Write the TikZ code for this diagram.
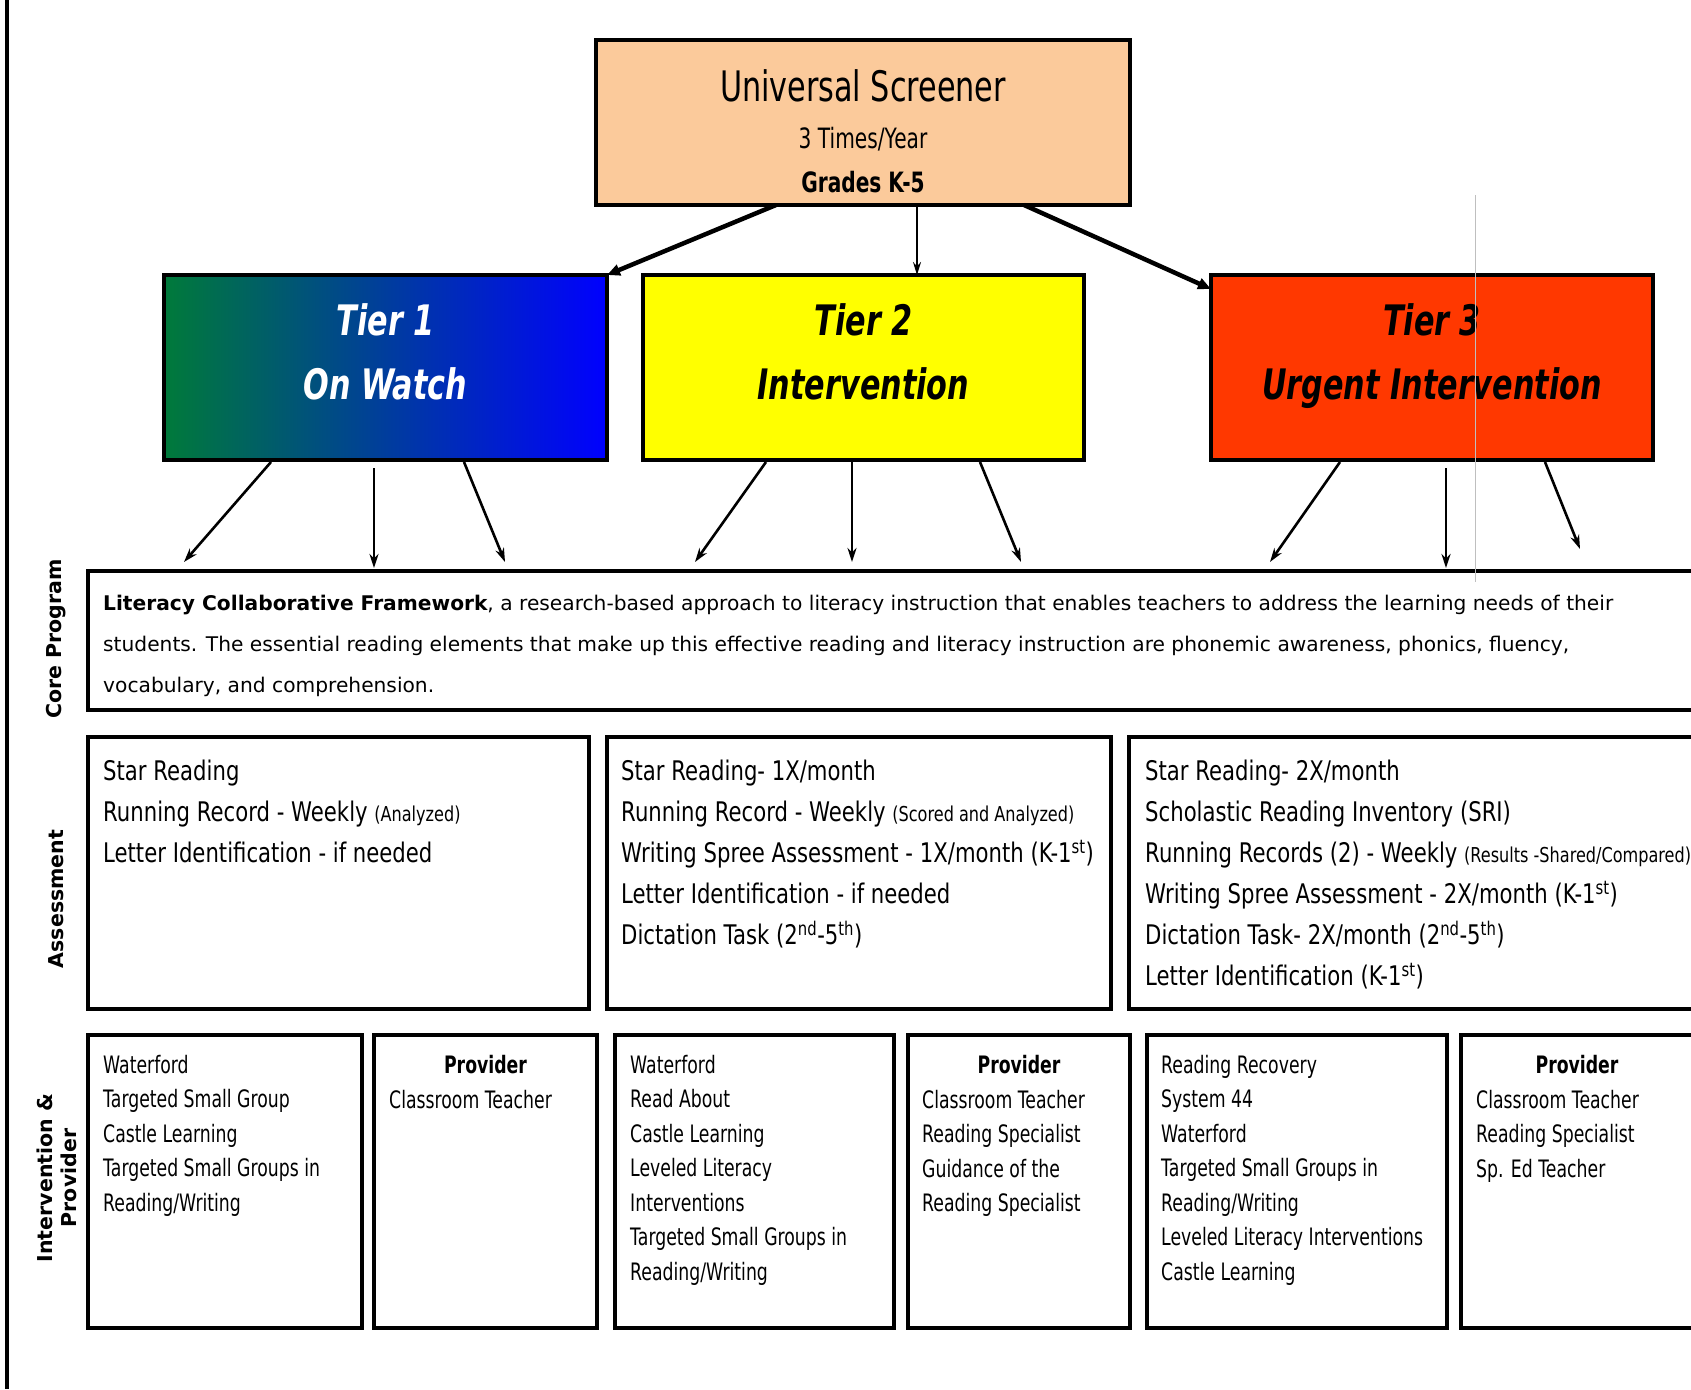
\documentclass[tikz,border=0pt]{standalone}
\usepackage{fontspec}
\setmainfont{DejaVu Sans}[ItalicFont={DejaVu Sans Oblique},BoldFont={DejaVu Sans Bold},BoldItalicFont={DejaVu Sans Bold Oblique}]
\newfontfamily\narrowfont{DejaVu Sans}[FakeStretch=0.72,ItalicFont={DejaVu Sans Oblique},BoldFont={DejaVu Sans Bold},BoldItalicFont={DejaVu Sans Bold Oblique}]
\newfontfamily\asmfont{DejaVu Sans}[FakeStretch=0.785,BoldFont={DejaVu Sans Bold}]
\usetikzlibrary{arrows.meta,positioning}
\definecolor{peach}{RGB}{251,202,155}
\definecolor{tgreen}{RGB}{0,122,58}
\definecolor{tblue}{RGB}{0,0,255}
\definecolor{tyellow}{RGB}{255,255,0}
\definecolor{tred}{RGB}{255,56,0}
\newcommand\aside[1]{{\fontsize{20.5}{20.5}\selectfont #1}}
\begin{document}
\begin{tikzpicture}[x=1pt,y=-1pt,
	box/.style={draw,line width=4.5pt,inner sep=0pt,outer sep=0pt,anchor=north west},
	lst/.style={inner sep=0pt,anchor=north west,align=left},
	asm/.style={lst,font=\asmfont\fontsize{27}{41}\selectfont},
	itv/.style={lst,font=\narrowfont\fontsize{24}{34.5}\selectfont},
	head/.style={inner sep=0pt,anchor=base,font=\narrowfont\bfseries\fontsize{24}{30}\selectfont},
	tier/.style={inner sep=0pt,anchor=north,align=center,font=\narrowfont\bfseries\itshape\fontsize{42}{64}\selectfont},
	side/.style={inner sep=0pt,rotate=90,align=center,font=\bfseries\fontsize{20.5}{24}\selectfont},
	fat/.style={-{Triangle[length=13pt,width=11pt]},line width=4.5pt},
	thin/.style={-{Stealth[length=13pt,width=8pt]},line width=1.8pt},
	down/.style={-{Stealth[length=14pt,width=9pt]},line width=2.6pt}]
	\useasboundingbox (0,0) rectangle (1691,1389);
	\draw [line width=4.5pt] (7,0) -- (7,1389);
	% screener and tiers
	\node [box,fill=peach,minimum width=534pt,minimum height=165pt] (univ) at (596,40) {};
	\node [anchor=base,inner sep=0pt,font=\narrowfont\fontsize{42}{48}\selectfont] (univa) at ([shift={(0,61)}]univ.north) {Universal Screener};
	\node [anchor=base,inner sep=0pt,font=\narrowfont\fontsize{28}{32}\selectfont] (univb) at ([shift={(0,108)}]univ.north) {3 Times/Year};
	\node [anchor=base,inner sep=0pt,font=\narrowfont\bfseries\fontsize{28}{32}\selectfont] (univc) at ([shift={(0,152)}]univ.north) {Grades K-5};
	\node [box,left color=tgreen,right color=tblue,minimum width=443pt,minimum height=185pt] (t1) at (164,275) {};
	\node [box,fill=tyellow,minimum width=441pt,minimum height=185pt] (t2) at (643,275) {};
	\node [box,fill=tred,minimum width=442pt,minimum height=185pt] (t3) at (1211,275) {};
	\node [tier,text=white] (t1txt) at ([shift={(0,28)}]t1.north) {Tier 1\\On Watch};
	\node [tier] (t2txt) at ([shift={(0,28)}]t2.north) {Tier 2\\Intervention};
	\node [tier] (t3txt) at ([shift={(0,28)}]t3.north) {Tier 3\\Urgent Intervention};
	\draw [fat] ([xshift=-87pt]univ.south) -- (t1.north east);
	\draw [thin] ([xshift=54pt]univ.south) -- ([xshift=53.5pt]t2.north);
	\draw [fat] ([xshift=161pt]univ.south) -- ([shift={(0,14)}]t3.north west);
	% rows
	\node [box,minimum width=1640pt,minimum height=139pt] (core) at (88,571) {};
	\node [box,minimum width=501pt,minimum height=272pt] (a1) at (88,737) {};
	\node [box,minimum width=504pt,minimum height=272pt] (a2) at (607,737) {};
	\node [box,minimum width=599pt,minimum height=272pt] (a3) at (1129,737) {};
	\node [box,minimum width=274pt,minimum height=293pt] (i1) at (88,1035) {};
	\node [box,minimum width=223pt,minimum height=293pt] (p1) at (374,1035) {};
	\node [box,minimum width=279pt,minimum height=293pt] (i2) at (615,1035) {};
	\node [box,minimum width=222pt,minimum height=293pt] (p2) at (908,1035) {};
	\node [box,minimum width=300pt,minimum height=293pt] (i3) at (1147,1035) {};
	\node [box,minimum width=267pt,minimum height=293pt] (p3) at (1461,1035) {};
	\draw [gray!50,line width=0.8pt] (1475,195) -- (1475,582);
	% tier arrows
	\draw [down] ([shift={(-114.5,2)}]t1.south) -- ([shift={(96,-9)}]core.north west);
	\draw [down] ([shift={(-11.5,8)}]t1.south) -- ([shift={(286,-3)}]core.north west);
	\draw [down] ([shift={(78.5,2)}]t1.south) -- ([shift={(417,-9)}]core.north west);
	\draw [down] ([shift={(-97.5,2)}]t2.south) -- ([shift={(607,-9)}]core.north west);
	\draw [down] ([shift={(-11.5,0)}]t2.south) -- ([shift={(764,-9)}]core.north west);
	\draw [down] ([shift={(116.5,2)}]t2.south) -- ([shift={(933,-9)}]core.north west);
	\draw [down] ([shift={(-92,2)}]t3.south) -- ([shift={(1182,-9)}]core.north west);
	\draw [down] ([shift={(14,8)}]t3.south) -- ([shift={(1358,-3)}]core.north west);
	\draw [down] ([shift={(113,2)}]t3.south) -- ([shift={(1492,-22)}]core.north west);
	% side labels
	\node [side] (lcore) at (56,639) {Core Program};
	\node [side] (lasm) at (56,899) {Assessment};
	\node [side] (litv) at (57,1178) {Intervention \&\\Provider};
	% texts
	\node [lst,font=\fontsize{20.2}{41}\selectfont] (coretxt) at ([shift={(15,24)}]core.north west) {\textbf{Literacy Collaborative Framework}, a research-based approach to literacy instruction that enables teachers to address the learning needs of their\\students. The essential reading elements that make up this effective reading and literacy instruction are phonemic awareness, phonics, fluency,\\vocabulary, and comprehension.};
	\node [asm] (a1txt) at ([shift={(15,23)}]a1.north west) {Star Reading\\Running Record - Weekly \aside{(Analyzed)}\\Letter Identification - if needed};
	\node [asm] (a2txt) at ([shift={(14,23)}]a2.north west) {Star Reading- 1X/month\\Running Record - Weekly \aside{(Scored and Analyzed)}\\Writing Spree Assessment - 1X/month (K-1\textsuperscript{st})\\Letter Identification - if needed\\Dictation Task (2\textsuperscript{nd}-5\textsuperscript{th})};
	\node [asm] (a3txt) at ([shift={(16,23)}]a3.north west) {Star Reading- 2X/month\\Scholastic Reading Inventory (SRI)\\Running Records (2) - Weekly \aside{(Results -Shared/Compared)}\\Writing Spree Assessment - 2X/month (K-1\textsuperscript{st})\\Dictation Task- 2X/month (2\textsuperscript{nd}-5\textsuperscript{th})\\Letter Identification (K-1\textsuperscript{st})};
	\node [itv] (i1txt) at ([shift={(15,20)}]i1.north west) {Waterford\\Targeted Small Group\\Castle Learning\\Targeted Small Groups in\\Reading/Writing};
	\node [itv] (i2txt) at ([shift={(15,20)}]i2.north west) {Waterford\\Read About\\Castle Learning\\Leveled Literacy\\Interventions\\Targeted Small Groups in\\Reading/Writing};
	\node [itv] (i3txt) at ([shift={(14,20)}]i3.north west) {Reading Recovery\\System 44\\Waterford\\Targeted Small Groups in\\Reading/Writing\\Leveled Literacy Interventions\\Castle Learning};
	\node [head] (p1h) at ([shift={(0,38)}]p1.north) {Provider};
	\node [head] (p2h) at ([shift={(0,38)}]p2.north) {Provider};
	\node [head] (p3h) at ([shift={(116,38)}]p3.north west) {Provider};
	\node [itv] (p1txt) at ([shift={(15,55)}]p1.north west) {Classroom Teacher};
	\node [itv] (p2txt) at ([shift={(14,55)}]p2.north west) {Classroom Teacher\\Reading Specialist\\Guidance of the\\Reading Specialist};
	\node [itv] (p3txt) at ([shift={(15,55)}]p3.north west) {Classroom Teacher\\Reading Specialist\\Sp. Ed Teacher};
\end{tikzpicture}
\end{document}
